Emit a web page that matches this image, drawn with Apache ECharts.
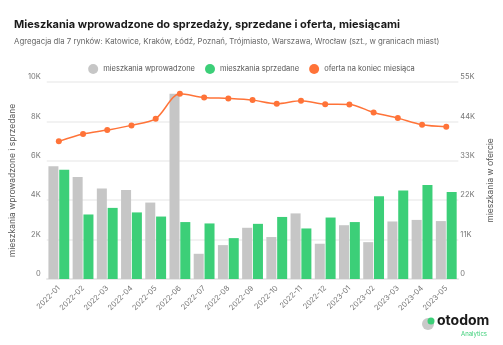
<!DOCTYPE html>
<html lang="pl">
<head>
  <meta charset="utf-8">
  <title>Mieszkania</title>
  <script src="https://cdn.jsdelivr.net/npm/echarts@6/dist/echarts.min.js"></script>
  <style>
    html, body { margin: 0; padding: 0; background: #fff; }
    #chart1 { width: 503px; height: 345px; }
  </style>
</head>
<body>
<div id="chart1"></div>
<script>
  // dane
  var miesiace = ['2022-01','2022-02','2022-03','2022-04','2022-05','2022-06','2022-07','2022-08','2022-09',
                  '2022-10','2022-11','2022-12','2023-01','2023-02','2023-03','2023-04','2023-05'];
  var wprowadzone = [5720, 5180, 4590, 4520, 3880, 9400, 1280, 1720, 2600, 2130, 3330, 1790, 2730, 1870, 2920, 3000, 2940];
  var sprzedane   = [5550, 3275, 3610, 3380, 3170, 2890, 2820, 2075, 2800, 3150, 2565, 3120, 2890, 4200, 4490, 4775, 4420];
  var oferta      = [38430, 40460, 41580, 42890, 44750, 51710, 50690, 50410, 49940, 48930, 49770, 48820, 48740, 46510, 44920, 43080, 42530];

  var font = 'Inter, "Noto Sans", sans-serif';

  function fmtK(v) {
    return v === 0 ? '0' : (v / 1000) + 'K';
  }

  var chart1 = echarts.init(document.getElementById('chart1'));

  var option = {
    backgroundColor: '#fff',
    textStyle: { fontFamily: font },
    title: {
      text: 'Mieszkania wprowadzone do sprzedaży, sprzedane i oferta, miesiącami',
      subtext: 'Agregacja dla 7 rynków: Katowice, Kraków, Łódź, Poznań, Trójmiasto, Warszawa, Wrocław (szt., w granicach miast)',
      left: 9,
      top: 14,
      itemGap: 8,
      textStyle: { fontSize: 11, fontWeight: 'bold', color: '#1a1a1a', fontFamily: font },
      subtextStyle: { fontSize: 7.8, color: '#666', fontFamily: font }
    },
    legend: {
      top: 59,
      left: 'center',
      icon: 'circle',
      itemWidth: 10,
      itemHeight: 10,
      itemGap: 10,
      textStyle: { fontSize: 7.5, color: '#555', fontFamily: font },
      data: ['mieszkania wprowadzone', 'mieszkania sprzedane', 'oferta na koniec miesiąca']
    },
    grid: { left: 42, right: 40, top: 82, bottom: 66 },
    xAxis: {
      type: 'category',
      data: miesiace,
      axisLine: { lineStyle: { color: '#e6e6e6', width: 1.5 } },
      axisTick: { show: false },
      axisLabel: { rotate: 45, fontSize: 7.5, color: '#777', margin: 8, fontFamily: font }
    },
    yAxis: [
      {
        type: 'value',
        min: 0, max: 10000, interval: 2000,
        name: 'mieszkania wprowadzone i sprzedane',
        nameLocation: 'middle',
        nameRotate: 90,
        nameGap: 23,
        nameTextStyle: { fontSize: 8.5, color: '#555', fontFamily: font },
        axisLabel: { formatter: fmtK, fontSize: 7.5, color: '#777', margin: 6, fontFamily: font,
                     verticalAlign: 'bottom', padding: [0, 0, 1, 0] },
        splitLine: { lineStyle: { color: '#eeeeee', width: 1.5 } },
        axisLine: { show: false },
        axisTick: { show: false }
      },
      {
        type: 'value',
        min: 0, max: 55000, interval: 11000,
        name: 'mieszkania w ofercie',
        nameLocation: 'middle',
        nameRotate: 90,
        nameGap: 24,
        nameTextStyle: { fontSize: 8.5, color: '#555', fontFamily: font },
        axisLabel: { formatter: fmtK, fontSize: 7.5, color: '#777', margin: 2, fontFamily: font,
                     verticalAlign: 'bottom', padding: [0, 0, 1, 0] },
        splitLine: { show: false },
        axisLine: { show: false },
        axisTick: { show: false }
      }
    ],
    series: [
      {
        name: 'mieszkania wprowadzone',
        type: 'bar',
        data: wprowadzone,
        barGap: '8%',
        barCategoryGap: '14%',
        itemStyle: { color: '#c6c6c6' }
      },
      {
        name: 'mieszkania sprzedane',
        type: 'bar',
        data: sprzedane,
        itemStyle: { color: '#3ccf78' }
      },
      {
        name: 'oferta na koniec miesiąca',
        type: 'line',
        yAxisIndex: 1,
        data: oferta,
        smooth: 0.3,
        symbol: 'circle',
        symbolSize: 6,
        itemStyle: { color: '#ff7338' },
        lineStyle: { color: '#ff7338', width: 1.5 }
      }
    ],
    graphic: [
      { type: 'circle', shape: { cx: 428, cy: 324, r: 6 }, style: { fill: '#c9c9c9' } },
      { type: 'circle', shape: { cx: 431, cy: 321, r: 3.5 }, style: { fill: '#3ccf78' } },
      { type: 'text', left: 437, top: 314, style: { text: 'otodom', fontSize: 14, fontWeight: 'bold', fill: '#1a1a1a', fontFamily: font } },
      { type: 'text', left: 461, top: 331, style: { text: 'Analytics', fontSize: 6, fill: '#3ccf78', fontFamily: font } }
    ]
  };

  chart1.setOption(option);
</script>
</body>
</html>
